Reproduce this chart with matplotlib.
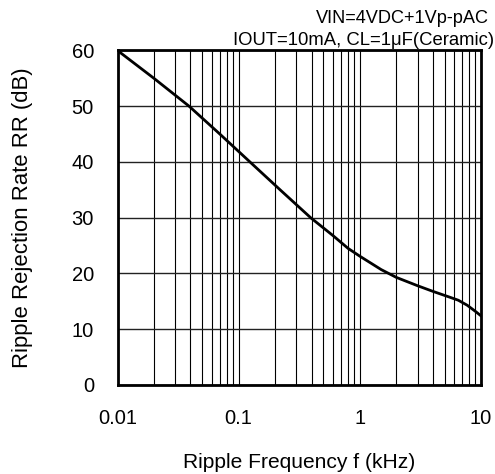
import matplotlib
matplotlib.use("Agg")
import matplotlib.pyplot as plt
from matplotlib.ticker import LogLocator, NullFormatter, FixedLocator

plt.rcParams['font.family'] = ['Liberation Sans', 'DejaVu Sans']

freq_khz = [0.01, 0.02, 0.039, 0.07, 0.124, 0.22, 0.393, 0.6, 0.8, 1.0, 1.5, 2.0, 3.0, 4.0, 5.6, 6.5, 7.7, 9.0, 10.0]
rr_db = [60.0, 55.0, 50.0, 45.0, 40.0, 35.0, 30.0, 26.8, 24.5, 23.1, 20.7, 19.3, 17.8, 16.8, 15.7, 15.2, 14.3, 13.2, 12.4]

x_ticks = [0.01, 0.1, 1, 10]
x_tick_labels = ["0.01", "0.1", "1", "10"]
y_ticks = [0, 10, 20, 30, 40, 50, 60]

fig = plt.figure(figsize=(4.95, 4.74), dpi=100)
ax = fig.add_axes([0.2374, 0.1878, 0.7343, 0.7057])

ax.plot(freq_khz, rr_db, color='black', lw=2.0, zorder=3)

ax.set_xscale('log')
ax.set_xlim(0.01, 10)
ax.set_ylim(0, 60)
ax.xaxis.set_major_locator(FixedLocator(x_ticks))
ax.set_xticklabels(x_tick_labels)
ax.xaxis.set_minor_locator(LogLocator(base=10, subs=range(2, 10)))
ax.xaxis.set_minor_formatter(NullFormatter())
ax.set_yticks(y_ticks)

ax.grid(True, which='both', axis='x', color='black', lw=0.8)
ax.grid(True, which='major', axis='y', color='#222222', lw=1.0)

ax.tick_params(axis='both', which='both', length=0, labelsize=14.5)
ax.tick_params(axis='x', pad=17)
ax.tick_params(axis='y', pad=17)

for s in ax.spines.values():
    s.set_linewidth(2.0)
    s.set_color('black')

ax.set_xlabel("Ripple Frequency f (kHz)", fontsize=15.1)
ax.set_ylabel("Ripple Rejection Rate RR (dB)", fontsize=15.9)
ax.xaxis.set_label_coords(0.5, -0.203)
ax.yaxis.set_label_coords(-0.232, 0.5)

fig.text(0.988, 0.951, "VIN=4VDC+1Vp-pAC", ha='right', va='baseline', fontsize=13.1)
fig.text(0.999, 0.905, "IOUT=10mA, CL=1\u03bcF(Ceramic)", ha='right', va='baseline', fontsize=13.3)

fig.savefig("out.png", dpi=100)
